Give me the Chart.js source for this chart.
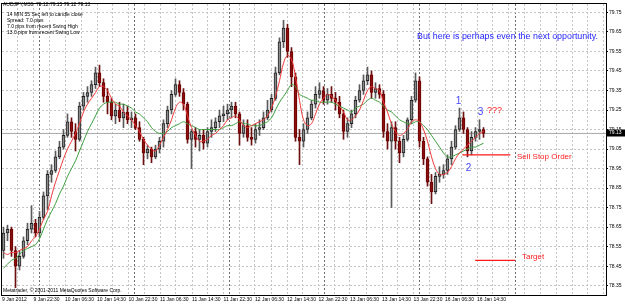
<!DOCTYPE html>
<html><head><meta charset="utf-8">
<script src="https://cdn.jsdelivr.net/npm/chart.js@4.4.0/dist/chart.umd.min.js"></script>
<style>html,body{margin:0;padding:0;background:#fff;overflow:hidden}#wrap{width:625px;height:305px}</style>
</head><body><div id="wrap"><canvas id="c" width="625" height="305" style="width:625px;height:305px"></canvas></div>
<script>
// ---------- data (hourly candles) ----------
const symbolLine = "AUDJPY,M30  79.12 79.15 79.12 79.13";
const infoLines = ["14 MIN 55 Sec left to candle close","Spread: 7.0 pips","7.0 pips from recent Swing High","13.0 pips from recent Swing Low"];
const copyrightText = "Metatrader, \u00A9 2001-2011 MetaQuotes Software Corp.";

const opens = [78.53,78.62,78.64,78.53,78.45,78.50,78.58,78.64,78.67,78.62,
78.70,78.81,78.92,78.94,79.01,79.06,79.12,79.19,79.14,79.10,
79.27,79.32,79.34,79.38,79.44,79.39,79.32,79.29,79.22,79.25,
79.21,79.24,79.20,79.21,79.16,79.10,79.03,79.05,79.01,79.05,
79.09,79.18,79.25,79.33,79.38,79.34,79.28,79.10,79.14,79.10,
79.12,79.08,79.14,79.16,79.19,79.22,79.23,79.25,79.27,79.23,
79.13,79.17,79.11,79.10,79.15,79.16,79.21,79.25,79.31,79.44,
79.60,79.67,79.55,79.42,79.11,79.09,79.15,79.21,79.28,79.33,
79.35,79.30,79.33,79.31,79.29,79.23,79.14,79.18,79.23,79.30,
79.35,79.40,79.43,79.34,79.36,79.33,79.14,79.09,79.16,79.09,
79.03,79.10,79.20,79.30,79.40,79.09,79.00,78.88,78.83,78.91,
78.92,78.94,79.00,79.06,79.15,79.21,79.15,79.04,79.11,79.14,
79.15];
const highs = [78.65,78.66,78.65,78.55,78.53,78.60,78.67,78.76,78.69,78.73,
78.83,78.94,78.97,79.04,79.09,79.15,79.23,79.21,79.18,79.29,
79.34,79.37,79.40,79.47,79.48,79.41,79.36,79.31,79.28,79.29,
79.28,79.27,79.24,79.23,79.19,79.11,79.07,79.06,79.07,79.11,
79.20,79.27,79.35,79.41,79.40,79.36,79.29,79.15,79.16,79.15,
79.15,79.16,79.20,79.21,79.25,79.27,79.28,79.29,79.29,79.24,
79.20,79.20,79.16,79.18,79.20,79.24,79.30,79.33,79.47,79.62,
79.71,79.69,79.57,79.44,79.15,79.18,79.24,79.30,79.37,79.39,
79.37,79.36,79.37,79.34,79.32,79.25,79.21,79.25,79.32,79.38,
79.43,79.47,79.45,79.39,79.38,79.35,79.18,79.19,79.19,79.11,
79.12,79.21,79.32,79.44,79.42,79.11,79.01,78.92,78.93,78.96,
78.97,79.02,79.09,79.17,79.26,79.24,79.16,79.14,79.16,79.20,
79.16];
const lows = [78.49,78.58,78.50,78.34,78.43,78.49,78.56,78.62,78.60,78.60,
78.69,78.74,78.88,78.93,79.00,79.05,79.11,79.11,79.04,79.09,
79.25,79.29,79.32,79.36,79.37,79.29,79.23,79.20,79.18,79.19,
79.16,79.18,79.16,79.15,79.09,78.97,79.00,78.98,79.00,79.03,
79.06,79.16,79.23,79.32,79.32,79.25,79.08,78.95,79.06,79.04,
79.05,79.06,79.11,79.14,79.16,79.19,79.20,79.21,79.21,79.07,
79.11,79.09,79.07,79.08,79.12,79.15,79.20,79.24,79.30,79.43,
79.57,79.52,79.37,79.09,78.97,79.06,79.13,79.20,79.26,79.31,
79.28,79.28,79.29,79.25,79.21,79.10,79.11,79.16,79.21,79.29,
79.33,79.38,79.31,79.31,79.31,79.11,79.05,78.75,79.05,78.98,
79.01,79.09,79.18,79.29,79.06,78.97,78.86,78.77,78.82,78.88,
78.90,78.92,78.97,79.05,79.14,79.13,79.01,79.02,79.09,79.10,
79.11];
const closes = [78.62,78.64,78.53,78.45,78.50,78.58,78.64,78.67,78.62,78.70,
78.81,78.92,78.94,79.01,79.06,79.12,79.19,79.14,79.10,79.27,
79.32,79.34,79.38,79.44,79.39,79.32,79.29,79.22,79.25,79.21,
79.24,79.20,79.21,79.16,79.10,79.03,79.05,79.01,79.05,79.09,
79.18,79.25,79.33,79.38,79.34,79.28,79.10,79.14,79.10,79.12,
79.08,79.14,79.16,79.19,79.22,79.23,79.25,79.27,79.23,79.13,
79.17,79.11,79.10,79.15,79.16,79.21,79.25,79.31,79.44,79.60,
79.67,79.55,79.42,79.11,79.09,79.15,79.21,79.28,79.33,79.35,
79.30,79.33,79.31,79.29,79.23,79.14,79.18,79.23,79.30,79.35,
79.40,79.43,79.34,79.36,79.33,79.14,79.09,79.16,79.09,79.03,
79.10,79.20,79.30,79.40,79.09,79.00,78.88,78.83,78.91,78.92,
78.94,79.00,79.06,79.15,79.21,79.15,79.04,79.11,79.14,79.15,
79.13];
const fastMA = [78.52,78.51,78.52,78.52,78.53,78.54,78.55,78.58,78.60,78.64,
78.69,78.73,78.81,78.88,78.94,79.00,79.05,79.09,79.13,79.18,
79.24,79.28,79.31,79.34,79.37,79.37,79.35,79.31,79.28,79.27,
79.24,79.22,79.20,79.17,79.14,79.10,79.07,79.05,79.04,79.07,
79.11,79.15,79.20,79.26,79.29,79.28,79.22,79.16,79.12,79.09,
79.09,79.10,79.12,79.13,79.15,79.17,79.20,79.21,79.22,79.20,
79.17,79.16,79.17,79.18,79.19,79.20,79.22,79.26,79.32,79.40,
79.49,79.53,79.51,79.42,79.30,79.20,79.17,79.18,79.23,79.28,
79.31,79.33,79.32,79.30,79.27,79.24,79.20,79.20,79.22,79.25,
79.30,79.35,79.37,79.36,79.35,79.29,79.24,79.18,79.14,79.12,
79.13,79.15,79.19,79.20,79.19,79.15,79.09,79.01,78.95,78.92,
78.92,78.93,78.96,79.00,79.03,79.05,79.07,79.09,79.11,79.13,
79.14];
const slowMA = [78.44,78.46,78.48,78.49,78.51,78.53,78.54,78.55,78.56,78.59,
78.64,78.69,78.73,78.77,78.82,78.86,78.91,78.95,78.99,79.04,
79.09,79.14,79.18,79.22,79.26,79.28,79.29,79.29,79.29,79.28,
79.28,79.27,79.26,79.24,79.23,79.21,79.19,79.16,79.14,79.13,
79.13,79.14,79.16,79.17,79.18,79.19,79.18,79.17,79.16,79.15,
79.15,79.15,79.15,79.15,79.15,79.16,79.17,79.17,79.18,79.19,
79.18,79.18,79.17,79.17,79.17,79.18,79.19,79.21,79.25,79.29,
79.32,79.35,79.38,79.37,79.33,79.32,79.31,79.30,79.30,79.29,
79.29,79.29,79.29,79.28,79.27,79.26,79.25,79.24,79.26,79.27,
79.28,79.30,79.31,79.30,79.29,79.27,79.25,79.24,79.22,79.20,
79.19,79.18,79.18,79.19,79.19,79.17,79.15,79.12,79.09,79.06,
79.03,79.01,79.01,79.02,79.03,79.04,79.05,79.06,79.06,79.07,
79.08];
const bidPrice = 79.13;
const sellStopLevel = 79.02;
const targetLevel = 78.48;
const yTickValues = [78.35,78.45,78.55,78.65,78.75,78.85,78.95,79.05,79.15,79.25,79.35,79.45,79.55,79.65,79.75];
const timeLabels = ["9 Jan 2012","9 Jan 22:30","10 Jan 06:30","10 Jan 14:30","10 Jan 22:30","11 Jan 06:30","11 Jan 14:30","11 Jan 22:30","12 Jan 06:30","12 Jan 14:30","12 Jan 22:30","13 Jan 06:30","13 Jan 14:30","13 Jan 22:30","16 Jan 06:30","16 Jan 14:30"];
// bar-index position of each time label and of each day separator
const labelSlots = [-0.375,7.5,15.375,23.375,31.25,39.125,47.125,55,62.875,70.875,78.75,86.625,94.625,102.5,110.375,118.375];
const daySeparators = [9.0,32.75,56.5,80.25,104.0,127.875];

// ---------- layout ----------
const xMin = -0.375, xMax = 150.625;
const yMax = 79.79326, yMin = 78.30216;

const xTicks = [];
timeLabels.forEach((t,k)=>xTicks.push({u:labelSlots[k],label:t,kind:k===0?'none':'grid'}));
const halfStep = (labelSlots[15]-labelSlots[1])/28;
xTicks.push({u:labelSlots[1]-halfStep,label:'',kind:'grid'});
for(let k=1;k<15;k++) xTicks.push({u:(labelSlots[k]+labelSlots[k+1])/2,label:'',kind:'grid'});
for(let u=labelSlots[15]+halfStep;u<xMax;u+=halfStep) xTicks.push({u:u,label:'',kind:'grid'});
daySeparators.forEach(u=>xTicks.push({u:u,label:'',kind:'sep'}));
xTicks.sort((a,b)=>a.u-b.u);

const idx = closes.map((_,i)=>i);
const isBear = i => closes[i] < opens[i];

const FONT = '"Liberation Sans", Arial, sans-serif';
Chart.defaults.font.family = FONT;

const overlay = {
  id:'overlay',
  afterDraw(chart){
    const {ctx, chartArea:a, scales:{x,y}} = chart;
    ctx.save();
    // frame
    ctx.strokeStyle='#000'; ctx.lineWidth=1;
    ctx.strokeRect(a.left-0.5, a.top-0.5, a.right-a.left+1, a.bottom-a.top+1);
    // header texts
    ctx.fillStyle='#000'; ctx.textBaseline='middle'; ctx.textAlign='left';
    ctx.font='5px '+FONT;
    ctx.fillText(symbolLine, 3, 5);
    infoLines.forEach((s,k)=>ctx.fillText(s, 7, 15+k*6));
    ctx.fillText(copyrightText, 3, 291);
    // bid price box
    const yb = y.getPixelForValue(bidPrice);
    ctx.fillStyle='#000'; ctx.fillRect(607, Math.round(yb)-3.5, 18, 7);
    ctx.fillStyle='#fff'; ctx.textAlign='left'; ctx.font='5px '+FONT;
    ctx.fillText(bidPrice.toFixed(2), 609, Math.round(yb));
    // red levels
    ctx.strokeStyle='#ff1a1a'; ctx.lineWidth=1.2;
    const ys = y.getPixelForValue(sellStopLevel);
    ctx.beginPath(); ctx.moveTo(x.getPixelForValue(114.7), ys); ctx.lineTo(x.getPixelForValue(126.7), ys); ctx.stroke();
    const yt = y.getPixelForValue(targetLevel);
    ctx.beginPath(); ctx.moveTo(x.getPixelForValue(117.9), yt); ctx.lineTo(x.getPixelForValue(127.9), yt); ctx.stroke();
    ctx.fillStyle='#ff2020'; ctx.font='8px '+FONT; ctx.textAlign='left';
    ctx.fillText('Sell Stop Order', 517, ys+1.5);
    ctx.fillText('Target', 522, yt-3);
    ctx.font='9px '+FONT;
    ctx.fillText('???', 487, 111);
    // blue notes
    ctx.fillStyle='#2424ff'; ctx.font='8.9px '+FONT;
    ctx.fillText('But here is perhaps even the next opportunity.', 417, 36.5);
    ctx.fillStyle='#4646ff'; ctx.font='10px '+FONT; ctx.textAlign='center';
    ctx.fillText('1', 458.5, 101.5);
    ctx.fillText('2', 468.5, 168.5);
    ctx.fillText('3', 480.5, 112.5);
    ctx.restore();
  }
};

new Chart(document.getElementById('c'), {
  type:'bar',
  data:{ datasets:[
    {type:'line', label:'bid', data:[{x:xMin,y:bidPrice},{x:xMax,y:bidPrice}], borderColor:'#a9a9a9', borderWidth:1, pointRadius:0, order:10},
    {label:'wicks', data: idx.map(i=>({x:i, y:[lows[i], highs[i]]})), backgroundColor: c=>isBear(c.dataIndex)?'#6a1010':'#5a5a5a', barThickness:1, grouped:false, order:5},
    {label:'bodies', data: idx.map(i=>({x:i, y:[opens[i], closes[i]]})),
      backgroundColor: c=>isBear(c.dataIndex)?'#8c0f0f':'#8a8a8a',
      borderColor: c=>isBear(c.dataIndex)?'#6a0000':'#1e1e1e',
      borderWidth:1, borderSkipped:false, barThickness:3, minBarLength:1, grouped:false, order:4},
    {type:'line', label:'slow MA', data: idx.map(i=>({x:i,y:slowMA[i]})), borderColor:'#3c9c3c', borderWidth:1, pointRadius:0, tension:0.35, order:2},
    {type:'line', label:'fast MA', data: idx.map(i=>({x:i,y:fastMA[i]})), borderColor:'#f03a3a', borderWidth:1, pointRadius:0, tension:0.35, order:1}
  ]},
  options:{
    responsive:false, devicePixelRatio:1, animation:false,
    layout:{padding:{left:2,top:2,right:0,bottom:0}},
    plugins:{legend:{display:false}, tooltip:{enabled:false}},
    scales:{
      x:{ type:'linear', min:xMin, max:xMax, offset:false,
        afterBuildTicks: s=>{ s.ticks = xTicks.map(t=>({value:t.u})); },
        afterFit: s=>{ s.height = 10; },
        ticks:{ autoSkip:false, maxRotation:0, minRotation:0, align:'start', font:{size:5}, color:'#000', padding:2,
          callback:(v,i)=> xTicks[i] ? xTicks[i].label : '' },
        grid:{ offset:false, drawTicks:false, lineWidth:1,
          color: c=>{ const t=xTicks[c.index]; if(!t||t.kind==='none') return 'rgba(0,0,0,0)'; return t.kind==='sep'?'#6e6e6e':'#c4c4c4'; } },
        border:{ display:false, dash:[2,2] }
      },
      y:{ type:'linear', position:'right', min:yMin, max:yMax,
        afterBuildTicks: s=>{ s.ticks = yTickValues.map(v=>({value:v})); },
        afterFit: s=>{ s.width = 19; },
        ticks:{ autoSkip:false, font:{size:5}, color:'#000', padding:1, callback:v=>Number(v).toFixed(2) },
        grid:{ color:'#c4c4c4', lineWidth:1, drawTicks:true, tickLength:2, tickColor:'#000' },
        border:{ display:false, dash:[2,2] }
      }
    }
  },
  plugins:[overlay]
});
</script>
</body></html>
